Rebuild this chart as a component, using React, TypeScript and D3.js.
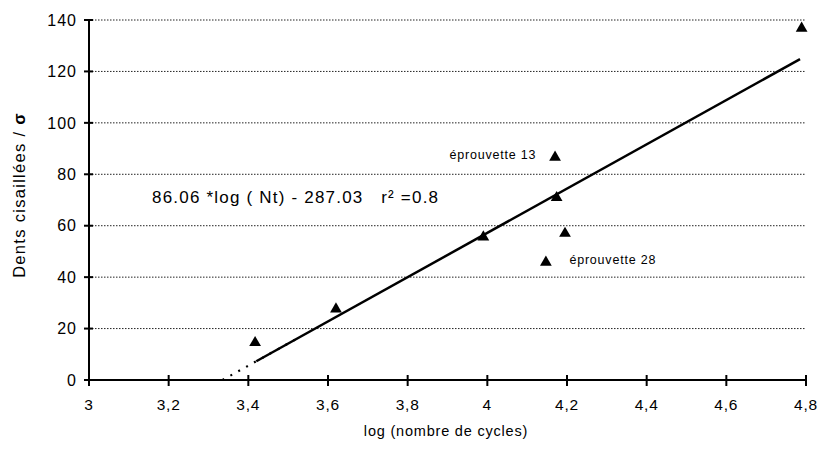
import React from "react";
import * as d3 from "d3";

const xTicks = [3, 3.2, 3.4, 3.6, 3.8, 4, 4.2, 4.4, 4.6, 4.8];
const xTickLabels = ["3", "3,2", "3,4", "3,6", "3,8", "4", "4,2", "4,4", "4,6", "4,8"];
const yTicks = [0, 20, 40, 60, 80, 100, 120, 140];
const pointsX = [3.417, 3.62, 3.99, 4.174, 4.17, 4.195, 4.147, 4.789];
const pointsY = [14.5, 27.6, 55.6, 70.9, 86.6, 57, 45.8, 136.8];
const slope = 86.06;
const intercept = -287.03;
const fitStart = 3.42;
const fitEnd = 4.785;
const annotations = [
  { text: "éprouvette 13", x: 3.905, y: 86 },
  { text: "éprouvette 28", x: 4.206, y: 45 },
];
const equation = "86.06 *log ( Nt) - 287.03   r² =0.8";

const W = 823;
const H = 449;

export default function App() {
  const x = d3.scaleLinear().domain([3, 4.8]).range([89, 806]);
  const y = d3.scaleLinear().domain([0, 140]).range([380, 20]);
  const f = (v: number) => slope * v + intercept;
  const x0 = -intercept / slope;
  const line = d3
    .line<number>()
    .x((d) => x(d))
    .y((d) => y(f(d)));
  const tri = d3.symbol().type(d3.symbolTriangle).size(60)();
  const font = "'Liberation Sans', Arial, Helvetica, sans-serif";

  return (
    <svg
      width={W}
      height={H}
      style={{ position: "absolute", left: 0, top: 0, background: "#fff" }}
      fontFamily={font}
    >
      {/* gridlines */}
      {yTicks.filter((t) => t > 0).map((t) => (
        <line
          key={"g" + t}
          x1={x(3)}
          x2={x(4.8)}
          y1={y(t)}
          y2={y(t)}
          stroke="#222"
          strokeWidth={1}
          strokeDasharray="1.5,1.5"
        />
      ))}
      {/* axes */}
      <line x1={x(3)} x2={x(3)} y1={y(140)} y2={y(0)} stroke="#000" strokeWidth={2} />
      <line x1={x(3)} x2={x(4.8)} y1={y(0)} y2={y(0)} stroke="#000" strokeWidth={2} />
      {yTicks.map((t) => (
        <g key={"yt" + t}>
          <line x1={x(3) - 5} x2={x(3) + 4} y1={y(t)} y2={y(t)} stroke="#000" strokeWidth={2} />
          <text
            x={77}
            y={y(t)}
            dy="0.36em"
            textAnchor="end"
            fontSize={16}
            letterSpacing={1}
            fill="#000"
          >
            {t}
          </text>
        </g>
      ))}
      {xTicks.map((t, i) => (
        <g key={"xt" + t}>
          <line x1={x(t)} x2={x(t)} y1={y(0) - 5} y2={y(0) + 6} stroke="#000" strokeWidth={2} />
          <text
            x={x(t)}
            y={410}
            textAnchor="middle"
            fontSize={15.5}
            letterSpacing={0.8}
            fill="#000"
          >
            {xTickLabels[i]}
          </text>
        </g>
      ))}
      {/* regression */}
      <path
        d={line([x0, fitStart + 0.1]) || ""}
        fill="none"
        stroke="#000"
        strokeWidth={2.2}
        strokeDasharray="2,7"
      />
      <path d={line([fitStart, fitEnd]) || ""} fill="none" stroke="#000" strokeWidth={2.5} />
      {/* points */}
      {pointsX.map((px, i) => (
        <path key={"p" + i} d={tri || ""} transform={`translate(${x(px)},${y(pointsY[i])})`} fill="#000" />
      ))}
      {/* annotations */}
      {annotations.map((a) => (
        <text key={a.text} x={x(a.x)} y={y(a.y)} fontSize={12.5} fill="#000" letterSpacing={0.8}>
          {a.text}
        </text>
      ))}
      <text x={152} y={203} fontSize={17} fill="#000" letterSpacing={1.2} style={{ whiteSpace: "pre" }}>
        {equation}
      </text>
      {/* axis titles */}
      <text x={446} y={436} textAnchor="middle" fontSize={14.5} fill="#000" letterSpacing={0.8}>
        log (nombre de cycles)
      </text>
      <text
        transform={`translate(25,195) rotate(-90)`}
        textAnchor="middle"
        fontSize={16.5}
        fill="#000"
        letterSpacing={1.3}
      >
        Dents cisaillées / <tspan fontWeight="bold">σ</tspan>
      </text>
    </svg>
  );
}
